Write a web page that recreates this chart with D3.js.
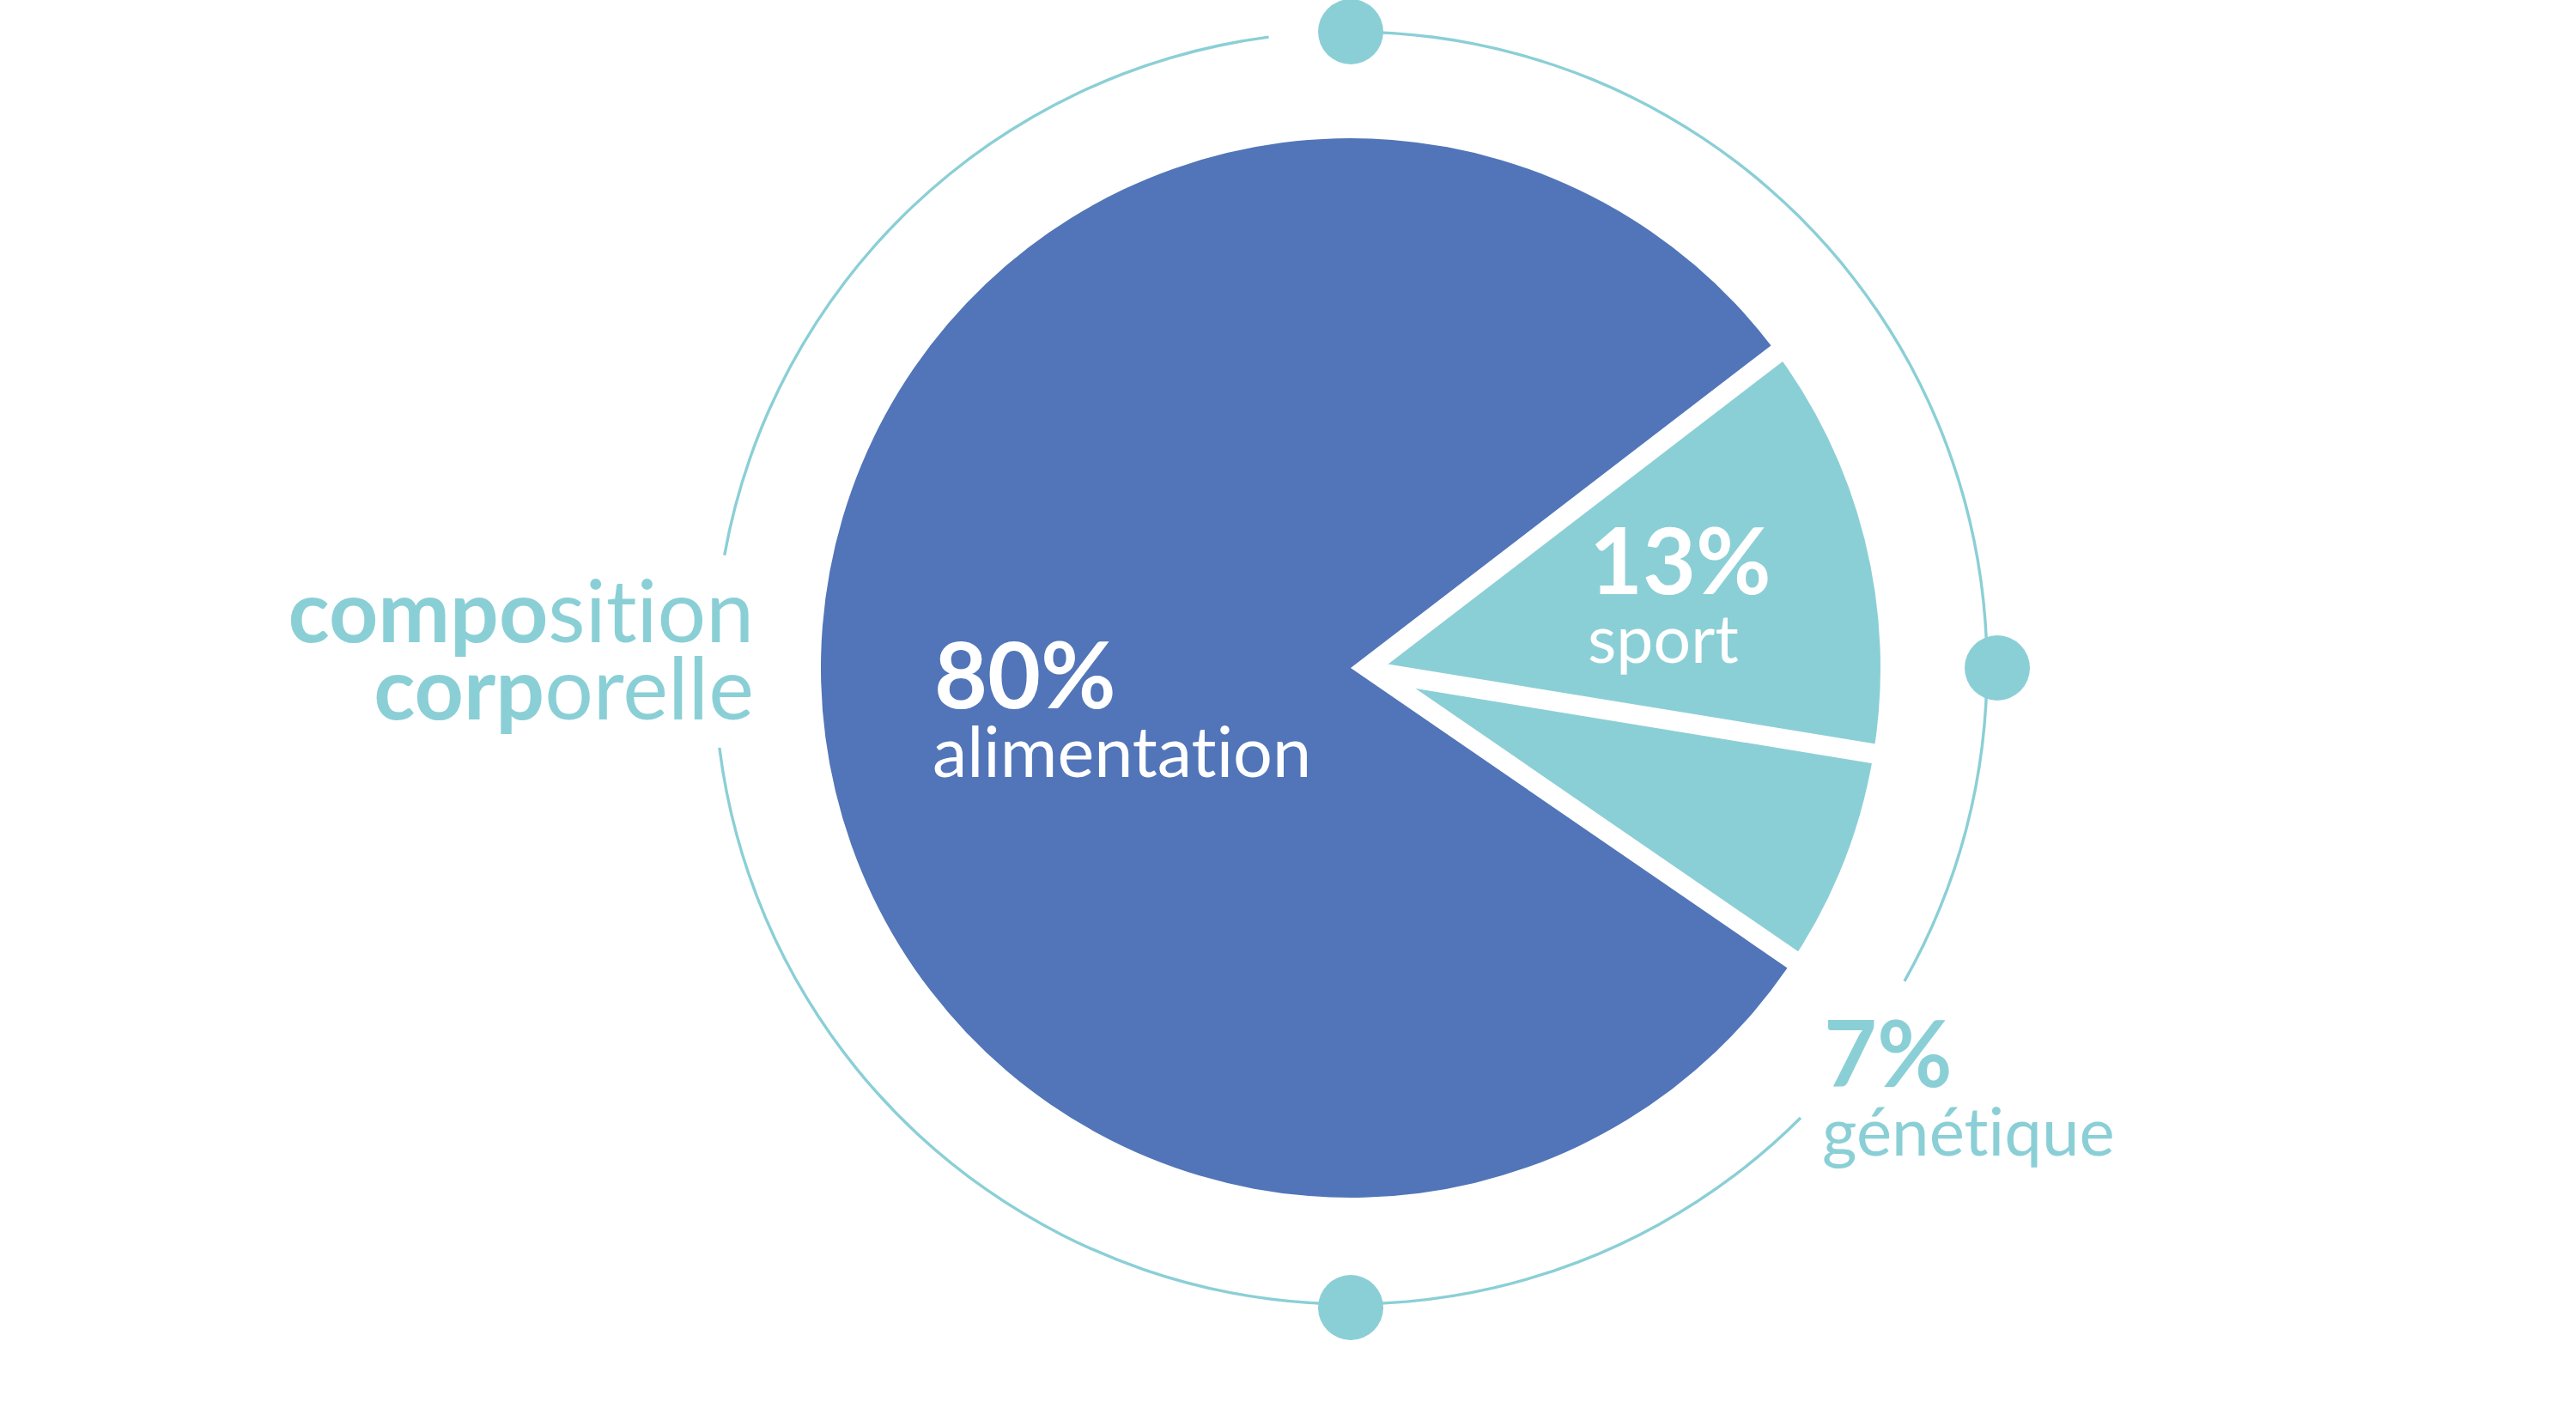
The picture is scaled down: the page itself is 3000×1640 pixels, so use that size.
<!DOCTYPE html>
<html>
<head>
<meta charset="utf-8">
<script src="https://cdn.jsdelivr.net/npm/d3@7"></script>
<style>
  body { margin: 0; background: #fff; }
  svg { display: block; }
  text { font-variant-ligatures: none; font-feature-settings: "liga" 0, "clig" 0; }
</style>
</head>
<body>
<div id="chart"></div>
<script>
// Slices, in drawing order (clockwise)
var categories = ["sport", "génétique", "alimentation"];
var shares = [13, 7, 80];
var pctLabels = ["13%", "7%", "80%"];

// Outer decorative ring: visible segments (degrees, clockwise from top) and node positions
var ringSegments = [[0, 119.5], [135, 262.8], [280.2, 352.6]];
var nodeAngles = [0, 90, 180];

var titleBold = ["compo", "corp"];
var titleRest = ["sition", "orelle"];

var blue = "#5175b8", teal = "#8bcfd6";

function createPie() {
    var width = 3000, height = 1640;
    var cx = 1573, cy = 778, radius = 617, ringR = 741, gap = 23;
    var rad = function (deg) { return deg * Math.PI / 180; };
    var font = "Lato, 'Open Sans', sans-serif";

    var svg = d3.select("#chart").append("svg")
        .attr("width", width)
        .attr("height", height);

    var g = svg.append("g").attr("transform", "translate(" + cx + "," + cy + ")");

    // ring
    var ringArc = d3.arc().innerRadius(ringR - 1.7).outerRadius(ringR + 1.7);
    g.selectAll("path.ring")
        .data(ringSegments)
        .enter().append("path")
        .attr("class", "ring")
        .attr("d", function (d) { return ringArc({ startAngle: rad(d[0]), endAngle: rad(d[1]) }); })
        .attr("fill", teal);

    g.selectAll("circle.node")
        .data(nodeAngles)
        .enter().append("circle")
        .attr("class", "node")
        .attr("cx", function (d) { return (d === 90 ? ringR + 12 : ringR) * Math.sin(rad(d)); })
        .attr("cy", function (d) { return -(d === 180 ? ringR + 4 : ringR) * Math.cos(rad(d)); })
        .attr("r", 38)
        .attr("fill", teal);

    // pie
    var start = 52.5;
    var pie = d3.pie().sort(null).value(function (d) { return d; })
        .startAngle(rad(start)).endAngle(rad(start + 360));
    var arcs = pie(shares);
    var arc = d3.arc().innerRadius(0).outerRadius(radius);

    // teal slices first
    g.selectAll("path.slice")
        .data(arcs.filter(function (d, i) { return categories[i] !== "alimentation"; }))
        .enter().append("path")
        .attr("class", "slice")
        .attr("d", arc)
        .attr("fill", teal);

    // gap between sport and génétique
    var a = arcs[0].endAngle;
    g.append("line")
        .attr("x1", 0).attr("y1", 0)
        .attr("x2", (radius + 10) * Math.sin(a))
        .attr("y2", -(radius + 10) * Math.cos(a))
        .attr("stroke", "#fff").attr("stroke-width", gap);

    var big = arcs[categories.indexOf("alimentation")];
    // white halo around the big slice cuts the gap into the teal side
    g.append("path").attr("d", arc(big))
        .attr("fill", "none").attr("stroke", "#fff").attr("stroke-width", gap * 2);
    g.append("path").attr("d", arc(big)).attr("fill", blue);

    // labels
    var labelPos = {
        "alimentation": { x: 1088, y: 825, size: 81, fill: "#fff" },
        "sport": { x: 1851, y: 692, size: 77, fill: "#fff" },
        "génétique": { x: 2124, y: 1266, size: 78, fill: teal }
    };
    categories.forEach(function (c, i) {
        var p = labelPos[c];
        svg.append("text")
            .attr("x", p.x).attr("y", p.y)
            .attr("font-family", font)
            .attr("font-size", 107).attr("font-weight", 700)
            .attr("fill", p.fill)
            .text(pctLabels[i]);
        svg.append("text")
            .attr("x", p.x - 2).attr("y", p.y + 80)
            .attr("font-family", font)
            .attr("font-size", p.size).attr("font-weight", 400)
            .attr("fill", p.fill)
            .text(c);
    });

    // "composition corporelle", right aligned, first syllables bold
    var right = 878;
    titleBold.forEach(function (b, i) {
        var y = i === 0 ? 748 : 838;
        var rest = svg.append("text")
            .attr("x", right).attr("y", y)
            .attr("text-anchor", "end")
            .attr("font-family", font).attr("font-size", 100).attr("font-weight", 400)
            .attr("fill", teal)
            .text(titleRest[i]);
        var w = rest.node().getComputedTextLength();
        svg.append("text")
            .attr("x", right - w).attr("y", y)
            .attr("text-anchor", "end")
            .attr("font-family", font).attr("font-size", 100).attr("font-weight", 700)
            .attr("fill", teal)
            .text(b);
    });
}

createPie();
</script>
</body>
</html>
